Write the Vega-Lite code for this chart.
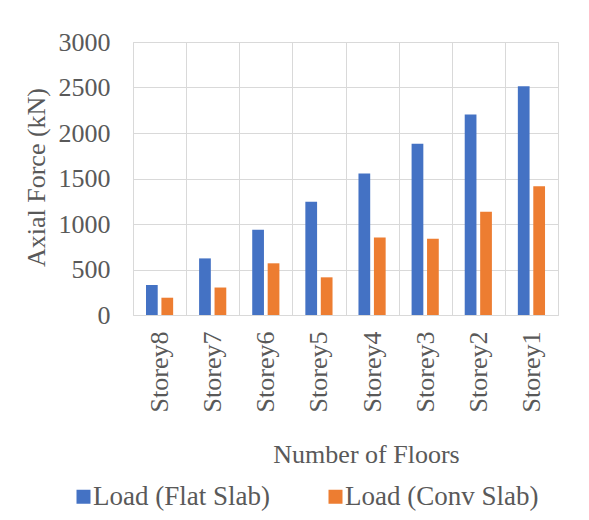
{
  "$schema": "https://vega.github.io/schema/vega-lite/v6.json",
  "width": 425,
  "height": 273,
  "autosize": "none",
  "padding": {"left": 133, "top": 42, "right": 31, "bottom": 205},
  "background": "white",
  "data": {
    "values": [
      {"storey": "Storey8", "series": "Load (Flat Slab)", "load": 330},
      {"storey": "Storey8", "series": "Load (Conv Slab)", "load": 190},
      {"storey": "Storey7", "series": "Load (Flat Slab)", "load": 622},
      {"storey": "Storey7", "series": "Load (Conv Slab)", "load": 302},
      {"storey": "Storey6", "series": "Load (Flat Slab)", "load": 937},
      {"storey": "Storey6", "series": "Load (Conv Slab)", "load": 568},
      {"storey": "Storey5", "series": "Load (Flat Slab)", "load": 1244},
      {"storey": "Storey5", "series": "Load (Conv Slab)", "load": 414},
      {"storey": "Storey4", "series": "Load (Flat Slab)", "load": 1556},
      {"storey": "Storey4", "series": "Load (Conv Slab)", "load": 853},
      {"storey": "Storey3", "series": "Load (Flat Slab)", "load": 1881},
      {"storey": "Storey3", "series": "Load (Conv Slab)", "load": 838},
      {"storey": "Storey2", "series": "Load (Flat Slab)", "load": 2204},
      {"storey": "Storey2", "series": "Load (Conv Slab)", "load": 1134},
      {"storey": "Storey1", "series": "Load (Flat Slab)", "load": 2514},
      {"storey": "Storey1", "series": "Load (Conv Slab)", "load": 1416}
    ]
  },
  "mark": {"type": "bar"},
  "encoding": {
    "x": {
      "field": "storey",
      "type": "nominal",
      "sort": ["Storey8", "Storey7", "Storey6", "Storey5", "Storey4", "Storey3", "Storey2", "Storey1"],
      "scale": {"paddingInner": 0, "paddingOuter": 0},
      "axis": {
        "title": "Number of Floors",
        "titleX": 233,
        "titleY": 147,
        "titleAlign": "center",
        "titleBaseline": "alphabetic",
        "labelAngle": 270,
        "labelAlign": "right",
        "labelBaseline": "middle",
        "labelPadding": 16,
        "ticks": false,
        "domain": false,
        "grid": true,
        "tickBand": "extent"
      }
    },
    "xOffset": {
      "field": "series",
      "type": "nominal",
      "sort": ["Load (Flat Slab)", "Load (Conv Slab)"],
      "scale": {"paddingInner": 0.24, "paddingOuter": 0.84}
    },
    "y": {
      "field": "load",
      "type": "quantitative",
      "scale": {"domain": [0, 3000], "nice": false},
      "axis": {
        "title": "Axial Force (kN)",
        "values": [0, 500, 1000, 1500, 2000, 2500, 3000],
        "format": "d",
        "titleX": -97,
        "titleY": 135,
        "titleAngle": 270,
        "titleAlign": "center",
        "titleBaseline": "middle",
        "labelPadding": 23,
        "ticks": false,
        "domain": false,
        "grid": true
      }
    },
    "color": {
      "field": "series",
      "type": "nominal",
      "scale": {
        "domain": ["Load (Flat Slab)", "Load (Conv Slab)"],
        "range": ["#4472C4", "#ED7D31"]
      },
      "legend": {
        "title": null,
        "orient": "none",
        "direction": "horizontal",
        "legendX": -63,
        "legendY": 441,
        "symbolType": "square",
        "symbolSize": 196,
        "symbolStrokeWidth": 0,
        "symbolOpacity": 1,
        "labelOffset": -4,
        "columnPadding": 52,
        "padding": 0
      }
    }
  },
  "config": {
    "font": "Liberation Serif",
    "view": {"stroke": "#D9D9D9", "strokeWidth": 1},
    "axis": {
      "gridColor": "#D9D9D9",
      "gridWidth": 1,
      "labelFont": "Liberation Serif",
      "labelFontSize": 26,
      "labelColor": "#595959",
      "titleFont": "Liberation Serif",
      "titleFontSize": 26,
      "titleFontWeight": "normal",
      "titleColor": "#595959"
    },
    "legend": {
      "labelFont": "Liberation Serif",
      "labelFontSize": 27,
      "labelColor": "#595959",
      "labelLimit": 400
    }
  }
}
